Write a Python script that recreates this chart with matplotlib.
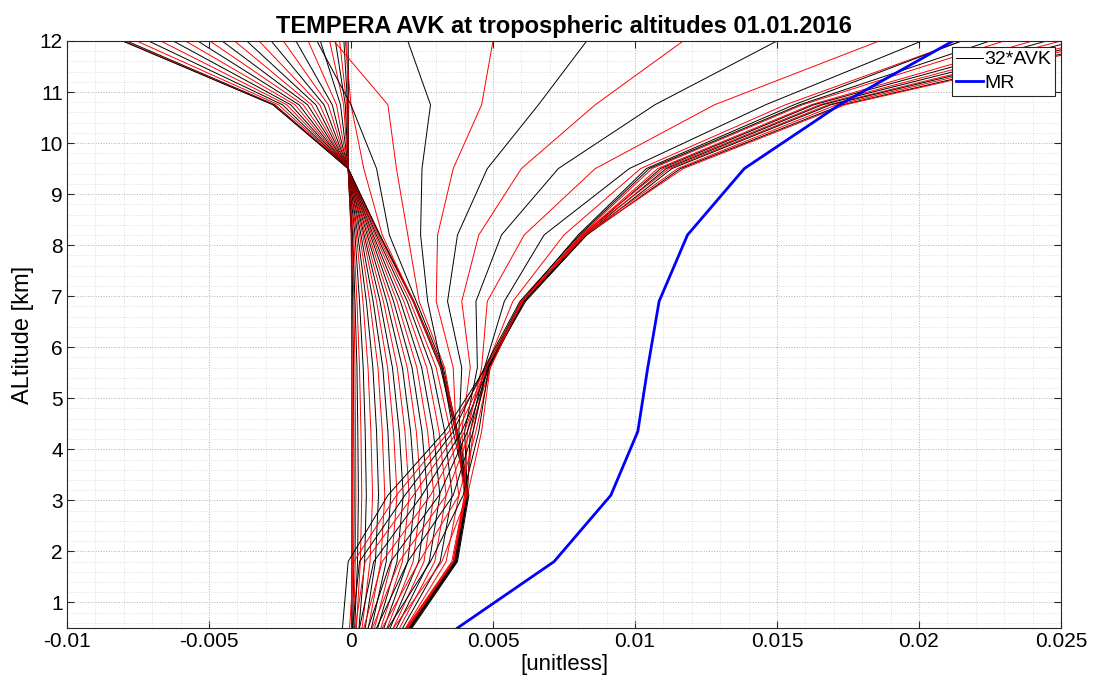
import numpy as np
import matplotlib.pyplot as plt
from matplotlib.ticker import MultipleLocator

plt.rcParams['font.family'] = ['Liberation Sans', 'DejaVu Sans']

# retrieval levels [km]
alt = [0.5, 1.8, 3.1, 4.35, 5.6, 6.9, 8.2, 9.5, 10.75, 12.0]

# 32*AVK rows, values in units of 1e-3
# rows that pivot at 9.5 km and lean to the left above it
avk_left = [
    [0.02, 0.03, 0.03, 0.03, 0.03, 0.02, 0.01, -0.10, -0.08, -0.10],
    [0.03, 0.05, 0.05, 0.05, 0.04, 0.03, 0.01, -0.10, -0.10, -0.15],
    [0.06, 0.10, 0.11, 0.10, 0.09, 0.06, 0.03, -0.10, -0.12, -0.25],
    [0.09, 0.15, 0.17, 0.16, 0.14, 0.10, 0.04, -0.10, -0.15, -0.40],
    [0.13, 0.23, 0.26, 0.24, 0.21, 0.14, 0.06, -0.10, -0.20, -0.55],
    [0.19, 0.33, 0.38, 0.35, 0.30, 0.21, 0.09, -0.10, -0.26, -0.75],
    [0.28, 0.48, 0.54, 0.50, 0.43, 0.30, 0.14, -0.10, -0.37, -1.08],
    [0.39, 0.67, 0.76, 0.70, 0.60, 0.42, 0.19, -0.10, -0.51, -1.51],
    [0.50, 0.86, 0.97, 0.90, 0.77, 0.54, 0.24, -0.10, -0.66, -1.94],
    [0.61, 1.05, 1.19, 1.10, 0.95, 0.66, 0.30, -0.10, -0.80, -2.38],
    [0.72, 1.24, 1.40, 1.30, 1.12, 0.78, 0.35, -0.10, -0.95, -2.81],
    [0.83, 1.43, 1.62, 1.50, 1.29, 0.90, 0.41, -0.10, -1.10, -3.24],
    [0.94, 1.62, 1.84, 1.70, 1.46, 1.02, 0.46, -0.10, -1.24, -3.67],
    [1.05, 1.81, 2.05, 1.90, 1.63, 1.14, 0.51, -0.10, -1.39, -4.10],
    [1.16, 2.00, 2.27, 2.10, 1.81, 1.26, 0.57, -0.10, -1.53, -4.54],
    [1.27, 2.19, 2.48, 2.30, 1.98, 1.38, 0.62, -0.10, -1.68, -4.97],
    [1.38, 2.38, 2.70, 2.50, 2.15, 1.50, 0.68, -0.10, -1.83, -5.40],
    [1.49, 2.57, 2.92, 2.70, 2.32, 1.62, 0.73, -0.10, -1.97, -5.83],
    [1.60, 2.76, 3.13, 2.90, 2.49, 1.74, 0.78, -0.10, -2.12, -6.26],
    [1.71, 2.95, 3.35, 3.10, 2.67, 1.86, 0.84, -0.10, -2.26, -6.70],
    [1.82, 3.14, 3.56, 3.30, 2.84, 1.98, 0.89, -0.10, -2.41, -7.13],
    [1.92, 3.35, 3.80, 3.50, 3.00, 2.08, 0.94, -0.10, -2.55, -7.55],
    [2.00, 3.60, 4.05, 3.68, 3.15, 2.18, 0.99, -0.10, -2.68, -7.90],
    [2.03, 3.66, 4.08, 3.70, 3.18, 2.20, 1.00, -0.10, -2.72, -8.00],
    [2.05, 3.70, 4.10, 3.72, 3.20, 2.22, 1.02, -0.10, -2.75, -8.05],
]

# transition rows in the middle
avk_mid = [
    [2.05, 3.70, 4.10, 3.75, 3.20, 2.20, 1.10, 0.45, 0.00, -0.20],
    [2.10, 3.72, 4.12, 3.75, 3.25, 2.30, 1.35, 0.90, 0.00, -1.20],
    [2.00, 3.65, 4.05, 3.70, 3.30, 2.40, 2.00, 1.60, 1.30, -0.60],
    [2.10, 3.70, 4.10, 3.60, 3.20, 2.70, 2.45, 2.50, 2.80, 2.00],
    [1.95, 3.60, 4.00, 3.70, 3.60, 3.00, 3.05, 3.60, 4.60, 5.00],
    [2.15, 3.75, 4.15, 3.80, 3.90, 3.40, 3.75, 4.80, 6.60, 8.30],
    [2.00, 3.65, 4.05, 3.90, 4.20, 3.90, 4.50, 6.00, 8.60, 11.70],
    [2.10, 3.70, 4.10, 4.00, 4.45, 4.40, 5.30, 7.30, 10.70, 15.00],
    [1.95, 3.55, 4.00, 4.10, 4.60, 4.80, 6.10, 8.60, 12.80, 18.60],
    [2.05, 3.65, 4.10, 4.20, 4.70, 5.40, 6.80, 9.80, 14.60, 20.10],
    [2.00, 3.60, 4.05, 4.30, 4.75, 5.70, 7.50, 10.20, 15.30, 21.50],
]

# rows that converge near 5.6 km and fan out to the right
avk_right = [
    [-0.30, -0.10, 1.30, 3.30, 4.75, 6.00, 8.00, 10.40, 15.60, 21.50],
    [-0.05, 0.10, 1.60, 3.45, 4.80, 6.05, 8.10, 10.60, 15.90, 23.00],
    [0.05, 0.30, 1.90, 3.60, 4.70, 5.95, 8.05, 10.50, 15.80, 22.50],
    [0.15, 0.50, 2.20, 3.75, 4.80, 6.10, 8.15, 10.80, 16.20, 24.00],
    [0.30, 0.80, 2.50, 3.90, 4.85, 6.00, 8.20, 10.90, 16.30, 24.50],
    [0.45, 1.10, 2.80, 4.00, 4.75, 6.05, 8.10, 11.00, 16.50, 25.00],
    [0.60, 1.40, 3.10, 4.10, 4.85, 6.10, 8.25, 11.10, 16.60, 25.50],
    [0.75, 1.70, 3.35, 4.20, 4.90, 6.00, 8.15, 11.20, 16.80, 26.00],
    [0.90, 2.00, 3.60, 4.30, 4.80, 6.15, 8.30, 11.30, 16.90, 26.30],
    [1.10, 2.40, 3.80, 4.40, 4.90, 6.05, 8.20, 11.50, 17.10, 26.60],
    [1.30, 2.80, 3.95, 4.50, 4.85, 6.10, 8.30, 11.60, 17.30, 27.00],
    [1.50, 3.20, 4.10, 4.60, 4.90, 6.00, 8.25, 11.70, 17.40, 27.20],
]

# mixing ratio profile, 1e-3
mr = [3.75, 7.15, 9.15, 10.10, 10.45, 10.85, 11.85, 13.85, 17.20, 21.20]

xtick_vals = [-0.01, -0.005, 0, 0.005, 0.01, 0.015, 0.02, 0.025]
xtick_labels = ['-0.01', '-0.005', '0', '0.005', '0.01', '0.015', '0.02', '0.025']


fig = plt.figure(figsize=(10.95, 6.91), dpi=100)
ax = fig.add_axes([0.0612, 0.0912, 0.9077, 0.8495])

rows = avk_left + avk_mid + avk_right
for i, row in enumerate(rows):
    col = 'k' if i % 2 == 0 else 'r'
    lab = '32*AVK' if i == 0 else None
    ax.plot(np.array(row) * 1e-3, alt, color=col, lw=0.7, label=lab)

ax.plot(np.array(mr) * 1e-3, alt, color='#0000ff', lw=2.0, label='MR')

ax.set_xlim(-0.01, 0.025)
ax.set_ylim(0.5, 12)
ax.set_xticks(xtick_vals)
ax.set_xticklabels(xtick_labels)
ax.set_yticks(range(1, 13))
ax.xaxis.set_minor_locator(MultipleLocator(0.001))
ax.yaxis.set_minor_locator(MultipleLocator(0.2))

ax.grid(which='major', ls=':', color='#b0b0b0', lw=0.7)
ax.grid(which='minor', ls=':', color='#d8d8d8', lw=0.6)
ax.set_axisbelow(True)

ax.tick_params(which='major', direction='in', top=True, right=True,
               length=5, width=0.8, labelsize=15, colors='#262626',
               labelcolor='black', pad=3)
ax.tick_params(which='minor', length=0)
for sp in ax.spines.values():
    sp.set_color('#262626')
    sp.set_linewidth(0.8)

ax.set_title('TEMPERA AVK at tropospheric altitudes 01.01.2016',
             fontsize=17, fontweight='bold', pad=6)
ax.set_xlabel('[unitless]', fontsize=16, labelpad=2)
ax.set_ylabel('ALtitude [km]', fontsize=17, labelpad=4)

leg = ax.legend(loc='upper right', fontsize=14, fancybox=False,
                framealpha=1, edgecolor='#262626', borderpad=0.2,
                labelspacing=0.3, handlelength=1.4, handletextpad=0.05,
                borderaxespad=0.3)
leg.get_frame().set_linewidth(0.8)

fig.savefig('out.png', dpi=100)
